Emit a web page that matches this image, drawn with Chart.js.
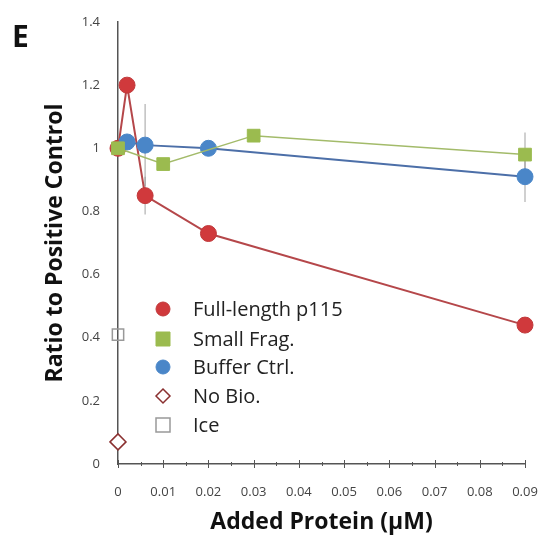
<!DOCTYPE html>
<html><head><meta charset="utf-8">
<script src="https://cdn.jsdelivr.net/npm/chart.js@4"></script>
<style>html,body{margin:0;padding:0;background:#fff}#wrap{width:544px;height:536px}</style>
</head><body><div id="wrap"><canvas id="c" width="544" height="536"></canvas></div>
<script>
const fullX = [0, 0.002, 0.006, 0.02, 0.09];
const fullY = [1.0, 1.2, 0.85, 0.73, 0.44];
const fullErr = [0, 0, 0.06, 0, 0.02];
const fragX = [0, 0.01, 0.03, 0.09];
const fragY = [1.0, 0.95, 1.04, 0.98];
const fragErr = [0, 0, 0, 0.07];
const bufX = [0.002, 0.006, 0.02, 0.09];
const bufY = [1.02, 1.01, 1.0, 0.91];
const bufErr = [0, 0.13, 0, 0.08];
const noBioX = [0];
const noBioY = [0.07];
const iceX = [0];
const iceY = [0.41];
const seriesLabels = ["Full-length p115", "Small Frag.", "Buffer Ctrl.", "No Bio.", "Ice"];
const yTicks = [0, 0.2, 0.4, 0.6, 0.8, 1, 1.2, 1.4];
const xTicks = [0, 0.01, 0.02, 0.03, 0.04, 0.05, 0.06, 0.07, 0.08, 0.09];
const panelLetter = "E";

const pts = (xs, ys) => xs.map((x, i) => ({x: x, y: ys[i]}));
const FONT = "'Open Sans', Lato, sans-serif";

const errPlugin = {
  id: 'errbars',
  beforeDatasetsDraw(chart) {
    const ctx = chart.ctx, xs = chart.scales.x, ys = chart.scales.y;
    ctx.save();
    ctx.strokeStyle = 'rgba(150,150,150,0.6)';
    ctx.lineWidth = 1.5;
    chart.data.datasets.forEach(ds => {
      if (!ds.errors) return;
      ds.data.forEach((p, i) => {
        const e = ds.errors[i];
        if (!e) return;
        const px = xs.getPixelForValue(p.x);
        ctx.beginPath();
        ctx.moveTo(px, ys.getPixelForValue(p.y + e));
        ctx.lineTo(px, ys.getPixelForValue(p.y - e));
        ctx.stroke();
      });
    });
    ctx.restore();
  }
};

const decoPlugin = {
  id: 'deco',
  afterDraw(chart) {
    const ctx = chart.ctx, xs = chart.scales.x, ys = chart.scales.y;
    ctx.save();
    ctx.fillStyle = '#111';
    ctx.font = "bold 30px " + FONT;
    ctx.textBaseline = 'alphabetic';
    ctx.fillText(panelLetter, 12, 47);
    ctx.strokeStyle = '#555';
    ctx.lineWidth = 1;
    const y0 = ys.getPixelForValue(0);
    for (let i = 0; i < xTicks.length; i++) {
      const px = Math.round(xs.getPixelForValue(xTicks[i])) + 0.5;
      ctx.beginPath(); ctx.moveTo(px, y0 - 4); ctx.lineTo(px, y0 + 4); ctx.stroke();
      if (i < xTicks.length - 1) {
        const mx = Math.round(xs.getPixelForValue((xTicks[i] + xTicks[i + 1]) / 2)) + 0.5;
        ctx.beginPath(); ctx.moveTo(mx, y0 - 2); ctx.lineTo(mx, y0 + 2); ctx.stroke();
      }
    }
    const lx = 163, tx = 193, rowY = [309, 339, 367, 396, 425];
    ctx.font = "20px " + FONT;
    ctx.textBaseline = 'middle';
    chart.data.datasets.forEach((ds, i) => {
      const y = rowY[i];
      ctx.lineWidth = ds.pointBorderWidth || 1;
      ctx.fillStyle = ds.pointBackgroundColor;
      ctx.strokeStyle = ds.pointBorderColor;
      const r = 7;
      ctx.beginPath();
      if (ds.pointStyle === 'circle') { ctx.arc(lx, y, r, 0, Math.PI * 2); ctx.fill(); ctx.stroke(); }
      else if (ds.pointStyle === 'rect') { ctx.rect(lx - r, y - r, 2 * r, 2 * r); ctx.fill(); ctx.stroke(); }
      else if (ds.pointStyle === 'rectRot') {
        ctx.moveTo(lx, y - r); ctx.lineTo(lx + r, y); ctx.lineTo(lx, y + r); ctx.lineTo(lx - r, y); ctx.closePath();
        ctx.fill(); ctx.stroke();
      }
      ctx.fillStyle = '#222';
      ctx.fillText(ds.label, tx, y + 1);
    });
    ctx.restore();
  }
};

new Chart(document.getElementById('c'), {
  type: 'scatter',
  data: {
    datasets: [
      { label: seriesLabels[0], data: pts(fullX, fullY), errors: fullErr, showLine: true,
        borderColor: '#b5474a', borderWidth: 2, pointStyle: 'circle', pointRadius: 8,
        pointBackgroundColor: '#d0393c', pointBorderColor: '#c0393b', pointBorderWidth: 1, order: 3 },
      { label: seriesLabels[1], data: pts(fragX, fragY), errors: fragErr, showLine: true,
        borderColor: '#a3bb6a', borderWidth: 1.5, pointStyle: 'rect', pointRadius: 9,
        pointBackgroundColor: '#9bbb4f', pointBorderColor: '#9bbb4f', pointBorderWidth: 1, order: 1 },
      { label: seriesLabels[2], data: pts(bufX, bufY), errors: bufErr, showLine: true,
        borderColor: '#4c6fa8', borderWidth: 2, pointStyle: 'circle', pointRadius: 8,
        pointBackgroundColor: '#4a86c8', pointBorderColor: '#4a86c8', pointBorderWidth: 1, order: 2 },
      { label: seriesLabels[3], data: pts(noBioX, noBioY), showLine: false,
        pointStyle: 'rectRot', pointRadius: 8, pointBackgroundColor: '#ffffff',
        pointBorderColor: '#8a3030', pointBorderWidth: 1.5, order: 4 },
      { label: seriesLabels[4], data: pts(iceX, iceY), showLine: false,
        pointStyle: 'rect', pointRadius: 8, pointBackgroundColor: 'rgba(255,255,255,0)',
        pointBorderColor: '#999999', pointBorderWidth: 1.5, order: 5 }
    ]
  },
  options: {
    responsive: false,
    animation: false,
    clip: false,
    layout: { padding: { top: 22, right: 19, left: 42, bottom: 0 } },
    plugins: { legend: { display: false }, tooltip: { enabled: false } },
    scales: {
      x: {
        type: 'linear', min: 0, max: 0.09,
        afterBuildTicks: s => { s.ticks = xTicks.map(v => ({value: v})); },
        afterFit: s => { s.height = 72; s.paddingRight = 0; s.paddingLeft = 0; },
        grid: { display: false, drawTicks: false },
        border: { display: true, color: '#555', width: 1.5 },
        ticks: { padding: 20, color: '#444', font: { family: FONT, size: 13 },
                 callback: v => String(+v.toFixed(2)), maxRotation: 0, autoSkip: false },
        title: { display: true, text: 'Added Protein (µM)', color: '#111',
                 font: { family: FONT, size: 23, weight: 'bold' }, padding: { top: 0, bottom: 0 } }
      },
      y: {
        type: 'linear', min: 0, max: 1.4,
        afterBuildTicks: s => { s.ticks = yTicks.map(v => ({value: v})); },
        afterFit: s => { s.width = 76; s.paddingTop = 0; s.paddingBottom = 0; },
        grid: { display: false, drawTicks: true, tickLength: 4, color: '#555' },
        border: { display: true, color: '#555', width: 1.5 },
        ticks: { padding: 14, color: '#444', font: { family: FONT, size: 13 },
                 callback: v => String(+v.toFixed(1)) },
        title: { display: true, text: 'Ratio to Positive Control', color: '#111',
                 font: { family: FONT, size: 23, weight: 'bold' }, padding: { top: 0, bottom: 0 } }
      }
    }
  },
  plugins: [errPlugin, decoPlugin]
});
</script>
</body></html>
